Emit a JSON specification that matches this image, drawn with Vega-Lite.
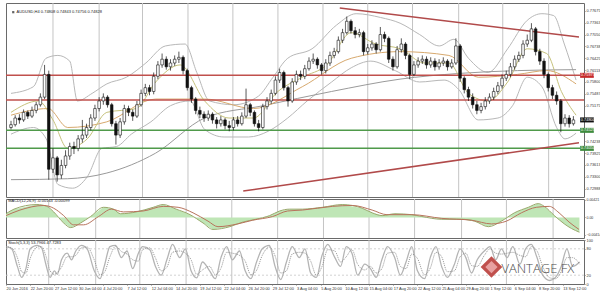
{
"$schema":"https://vega.github.io/schema/vega-lite/v6.json",
"background":"white",
"padding":{"left":2,"top":2,"right":0,"bottom":0},
"spacing":2,
"bounds":"flush",
"config":{"view":{"stroke":"#6a6a6a","strokeWidth":1},"axis":{"labelFont":"Liberation Sans","labelColor":"#333333","tickColor":"#777777","labelFontSize":3.9,"tickSize":1,"labelPadding":1,"domain":false,"grid":false,"title":null},"text":{"font":"Liberation Sans"}},
"datasets":{
"grid":[{"i":30},{"i":63},{"i":94},{"i":126.5},{"i":158.6},{"i":190.8},{"i":223},{"i":255},{"i":287},{"i":320},{"i":351.5},{"i":384.3}],
"levels":[{"p":0.75975,"col":"#c0504d"},{"p":0.75325,"col":"#c0504d"},{"p":0.74525,"col":"#4f9a4a"},{"p":0.7405,"col":"#4f9a4a"}],
"trend":[{"i":235,"p":0.7775,"i2":406,"p2":0.76985},{"i":166,"p":0.72925,"i2":406,"p2":0.742}],
"boxes":[{"p":0.75975,"col":"#c62828","t":"0.75975"},{"p":0.748,"col":"#111111","t":"0.74800"},{"p":0.74525,"col":"#3d8b3d","t":"0.74525"},{"p":0.7405,"col":"#3d8b3d","t":"0.74050"}],
"candles":[
{"i":0,"o":0.746,"h":0.74775,"l":0.7455,"c":0.74675},
{"i":3,"o":0.74675,"h":0.74925,"l":0.74625,"c":0.7485},
{"i":6,"o":0.7485,"h":0.7495,"l":0.747,"c":0.748},
{"i":9,"o":0.748,"h":0.75075,"l":0.7475,"c":0.75},
{"i":12,"o":0.75,"h":0.7505,"l":0.74825,"c":0.749},
{"i":15,"o":0.749,"h":0.7515,"l":0.7485,"c":0.7505},
{"i":18,"o":0.7505,"h":0.75275,"l":0.74975,"c":0.752},
{"i":21,"o":0.752,"h":0.755,"l":0.7515,"c":0.754},
{"i":24,"o":0.754,"h":0.7625,"l":0.7535,"c":0.76},
{"i":27,"o":0.76,"h":0.761,"l":0.73225,"c":0.735},
{"i":30,"o":0.735,"h":0.7405,"l":0.734,"c":0.738},
{"i":33,"o":0.738,"h":0.7385,"l":0.73175,"c":0.7335},
{"i":36,"o":0.7335,"h":0.7375,"l":0.7325,"c":0.736},
{"i":39,"o":0.736,"h":0.74,"l":0.73525,"c":0.7385},
{"i":42,"o":0.7385,"h":0.742,"l":0.7375,"c":0.741},
{"i":45,"o":0.741,"h":0.74225,"l":0.739,"c":0.7405},
{"i":48,"o":0.7405,"h":0.744,"l":0.73975,"c":0.743},
{"i":51,"o":0.743,"h":0.748,"l":0.742,"c":0.744},
{"i":54,"o":0.744,"h":0.747,"l":0.74325,"c":0.746},
{"i":57,"o":0.746,"h":0.7495,"l":0.74525,"c":0.7485},
{"i":60,"o":0.7485,"h":0.752,"l":0.74775,"c":0.751},
{"i":63,"o":0.751,"h":0.754,"l":0.75025,"c":0.753},
{"i":66,"o":0.753,"h":0.755,"l":0.752,"c":0.754},
{"i":69,"o":0.754,"h":0.7545,"l":0.75125,"c":0.752},
{"i":72,"o":0.752,"h":0.7525,"l":0.74625,"c":0.747},
{"i":75,"o":0.747,"h":0.74775,"l":0.7415,"c":0.744},
{"i":78,"o":0.744,"h":0.7485,"l":0.74325,"c":0.7475},
{"i":81,"o":0.7475,"h":0.752,"l":0.74675,"c":0.751},
{"i":84,"o":0.751,"h":0.75175,"l":0.749,"c":0.75},
{"i":87,"o":0.75,"h":0.75075,"l":0.74775,"c":0.749},
{"i":90,"o":0.749,"h":0.753,"l":0.7485,"c":0.752},
{"i":93,"o":0.752,"h":0.756,"l":0.7515,"c":0.755},
{"i":96,"o":0.755,"h":0.7575,"l":0.75425,"c":0.7565},
{"i":99,"o":0.7565,"h":0.75725,"l":0.7545,"c":0.7555},
{"i":102,"o":0.7555,"h":0.7605,"l":0.75475,"c":0.7595},
{"i":105,"o":0.7595,"h":0.7635,"l":0.75875,"c":0.7625},
{"i":108,"o":0.7625,"h":0.7655,"l":0.76175,"c":0.764},
{"i":111,"o":0.764,"h":0.76475,"l":0.76125,"c":0.762},
{"i":114,"o":0.762,"h":0.764,"l":0.761,"c":0.763},
{"i":117,"o":0.763,"h":0.765,"l":0.76225,"c":0.764},
{"i":120,"o":0.764,"h":0.766,"l":0.763,"c":0.7645},
{"i":123,"o":0.7645,"h":0.765,"l":0.76,"c":0.761},
{"i":126,"o":0.761,"h":0.7615,"l":0.75575,"c":0.7565},
{"i":129,"o":0.7565,"h":0.757,"l":0.7525,"c":0.7535},
{"i":132,"o":0.7535,"h":0.754,"l":0.7495,"c":0.7505},
{"i":135,"o":0.7505,"h":0.7515,"l":0.7485,"c":0.7495},
{"i":138,"o":0.7495,"h":0.75025,"l":0.7475,"c":0.7485},
{"i":141,"o":0.7485,"h":0.7505,"l":0.74775,"c":0.7495},
{"i":144,"o":0.7495,"h":0.75,"l":0.747,"c":0.748},
{"i":147,"o":0.748,"h":0.74875,"l":0.74575,"c":0.747},
{"i":150,"o":0.747,"h":0.749,"l":0.74625,"c":0.748},
{"i":153,"o":0.748,"h":0.7485,"l":0.7455,"c":0.7465},
{"i":156,"o":0.7465,"h":0.74775,"l":0.745,"c":0.746},
{"i":159,"o":0.746,"h":0.74875,"l":0.74525,"c":0.748},
{"i":162,"o":0.748,"h":0.749,"l":0.74625,"c":0.747},
{"i":165,"o":0.747,"h":0.75,"l":0.7465,"c":0.749},
{"i":168,"o":0.749,"h":0.75625,"l":0.7485,"c":0.752},
{"i":171,"o":0.752,"h":0.7525,"l":0.749,"c":0.75},
{"i":174,"o":0.75,"h":0.7505,"l":0.74625,"c":0.747},
{"i":177,"o":0.747,"h":0.748,"l":0.745,"c":0.746},
{"i":180,"o":0.746,"h":0.75225,"l":0.7455,"c":0.7515},
{"i":183,"o":0.7515,"h":0.754,"l":0.75075,"c":0.753},
{"i":186,"o":0.753,"h":0.756,"l":0.75225,"c":0.755},
{"i":189,"o":0.755,"h":0.7595,"l":0.7545,"c":0.7585},
{"i":192,"o":0.7585,"h":0.7615,"l":0.75775,"c":0.7605},
{"i":195,"o":0.7605,"h":0.761,"l":0.75575,"c":0.7565},
{"i":198,"o":0.7565,"h":0.757,"l":0.7515,"c":0.753},
{"i":201,"o":0.753,"h":0.759,"l":0.7525,"c":0.758},
{"i":204,"o":0.758,"h":0.761,"l":0.75725,"c":0.76},
{"i":207,"o":0.76,"h":0.761,"l":0.7585,"c":0.7595},
{"i":210,"o":0.7595,"h":0.7625,"l":0.75875,"c":0.7615},
{"i":213,"o":0.7615,"h":0.7645,"l":0.761,"c":0.7635},
{"i":216,"o":0.7635,"h":0.7655,"l":0.76275,"c":0.764},
{"i":219,"o":0.764,"h":0.7645,"l":0.7615,"c":0.7625},
{"i":222,"o":0.7625,"h":0.763,"l":0.76,"c":0.761},
{"i":225,"o":0.761,"h":0.764,"l":0.76025,"c":0.763},
{"i":228,"o":0.763,"h":0.766,"l":0.76225,"c":0.765},
{"i":231,"o":0.765,"h":0.767,"l":0.76425,"c":0.766},
{"i":234,"o":0.766,"h":0.77,"l":0.7655,"c":0.769},
{"i":237,"o":0.769,"h":0.772,"l":0.76825,"c":0.771},
{"i":240,"o":0.771,"h":0.77525,"l":0.7705,"c":0.774},
{"i":243,"o":0.774,"h":0.7745,"l":0.77075,"c":0.7715},
{"i":246,"o":0.7715,"h":0.7725,"l":0.7695,"c":0.7705},
{"i":249,"o":0.7705,"h":0.772,"l":0.76975,"c":0.771},
{"i":252,"o":0.771,"h":0.7715,"l":0.765,"c":0.766},
{"i":255,"o":0.766,"h":0.768,"l":0.76525,"c":0.767},
{"i":258,"o":0.767,"h":0.769,"l":0.76625,"c":0.768},
{"i":261,"o":0.768,"h":0.7685,"l":0.7655,"c":0.7665},
{"i":264,"o":0.7665,"h":0.7725,"l":0.766,"c":0.7705},
{"i":267,"o":0.7705,"h":0.77125,"l":0.7685,"c":0.7695},
{"i":270,"o":0.7695,"h":0.77,"l":0.763,"c":0.764},
{"i":273,"o":0.764,"h":0.76475,"l":0.761,"c":0.762},
{"i":276,"o":0.762,"h":0.7675,"l":0.7615,"c":0.7665},
{"i":279,"o":0.7665,"h":0.7695,"l":0.76575,"c":0.768},
{"i":282,"o":0.768,"h":0.7685,"l":0.764,"c":0.765},
{"i":285,"o":0.765,"h":0.7655,"l":0.75875,"c":0.76},
{"i":288,"o":0.76,"h":0.7635,"l":0.7595,"c":0.7625},
{"i":291,"o":0.7625,"h":0.7645,"l":0.76175,"c":0.7635},
{"i":294,"o":0.7635,"h":0.765,"l":0.76275,"c":0.764},
{"i":297,"o":0.764,"h":0.76475,"l":0.7615,"c":0.7625},
{"i":300,"o":0.7625,"h":0.7645,"l":0.76175,"c":0.7635},
{"i":303,"o":0.7635,"h":0.76425,"l":0.761,"c":0.762},
{"i":306,"o":0.762,"h":0.764,"l":0.76125,"c":0.763},
{"i":309,"o":0.763,"h":0.7645,"l":0.76225,"c":0.7635},
{"i":312,"o":0.7635,"h":0.764,"l":0.761,"c":0.762},
{"i":315,"o":0.762,"h":0.764,"l":0.7615,"c":0.763},
{"i":318,"o":0.763,"h":0.7695,"l":0.7625,"c":0.7675},
{"i":321,"o":0.7675,"h":0.768,"l":0.758,"c":0.759},
{"i":324,"o":0.759,"h":0.7595,"l":0.755,"c":0.756},
{"i":327,"o":0.756,"h":0.75675,"l":0.753,"c":0.754},
{"i":330,"o":0.754,"h":0.755,"l":0.751,"c":0.752},
{"i":333,"o":0.752,"h":0.753,"l":0.7495,"c":0.7505},
{"i":336,"o":0.7505,"h":0.7525,"l":0.74975,"c":0.7515},
{"i":339,"o":0.7515,"h":0.754,"l":0.75075,"c":0.753},
{"i":342,"o":0.753,"h":0.755,"l":0.75225,"c":0.754},
{"i":345,"o":0.754,"h":0.7565,"l":0.75325,"c":0.7555},
{"i":348,"o":0.7555,"h":0.758,"l":0.75475,"c":0.757},
{"i":351,"o":0.757,"h":0.76,"l":0.75625,"c":0.759},
{"i":354,"o":0.759,"h":0.761,"l":0.75825,"c":0.76},
{"i":357,"o":0.76,"h":0.763,"l":0.75925,"c":0.762},
{"i":360,"o":0.762,"h":0.765,"l":0.76125,"c":0.764},
{"i":363,"o":0.764,"h":0.766,"l":0.76325,"c":0.765},
{"i":366,"o":0.765,"h":0.769,"l":0.76425,"c":0.768},
{"i":369,"o":0.768,"h":0.7705,"l":0.76725,"c":0.769},
{"i":372,"o":0.769,"h":0.7735,"l":0.7685,"c":0.772},
{"i":375,"o":0.772,"h":0.7725,"l":0.765,"c":0.766},
{"i":378,"o":0.766,"h":0.76675,"l":0.7625,"c":0.7635},
{"i":381,"o":0.7635,"h":0.76425,"l":0.759,"c":0.76},
{"i":384,"o":0.76,"h":0.7605,"l":0.7555,"c":0.7565},
{"i":387,"o":0.7565,"h":0.75725,"l":0.7535,"c":0.7545},
{"i":390,"o":0.7545,"h":0.7555,"l":0.752,"c":0.753},
{"i":393,"o":0.753,"h":0.7535,"l":0.74475,"c":0.747},
{"i":396,"o":0.747,"h":0.7495,"l":0.74625,"c":0.7485},
{"i":399,"o":0.7485,"h":0.74925,"l":0.746,"c":0.747},
{"i":402,"o":0.747,"h":0.749,"l":0.7465,"c":0.748}
],
"ind":[
{"s":"bbu","i":0,"p":0.755},{"s":"bbu","i":16,"p":0.75675},{"s":"bbu","i":25,"p":0.76425},{"s":"bbu","i":33.5,"p":0.765},{"s":"bbu","i":42,"p":0.7635},{"s":"bbu","i":47.5,"p":0.753},{"s":"bbu","i":58,"p":0.755},{"s":"bbu","i":68.5,"p":0.7575},{"s":"bbu","i":82.5,"p":0.75925},{"s":"bbu","i":96.4,"p":0.763},{"s":"bbu","i":110.4,"p":0.7675},{"s":"bbu","i":124.4,"p":0.768},{"s":"bbu","i":132.8,"p":0.7605},{"s":"bbu","i":141.9,"p":0.753},{"s":"bbu","i":159.3,"p":0.752},{"s":"bbu","i":176.8,"p":0.75425},{"s":"bbu","i":187.3,"p":0.75925},{"s":"bbu","i":197.8,"p":0.76425},{"s":"bbu","i":215.2,"p":0.76675},{"s":"bbu","i":232.7,"p":0.773},{"s":"bbu","i":246.7,"p":0.776},{"s":"bbu","i":264.2,"p":0.775},{"s":"bbu","i":278.1,"p":0.7735},{"s":"bbu","i":292.1,"p":0.7705},{"s":"bbu","i":306.1,"p":0.7675},{"s":"bbu","i":316.6,"p":0.76925},{"s":"bbu","i":327,"p":0.76425},{"s":"bbu","i":341,"p":0.7605},{"s":"bbu","i":355,"p":0.76675},{"s":"bbu","i":369,"p":0.77425},{"s":"bbu","i":379.5,"p":0.776},{"s":"bbu","i":387.9,"p":0.7755},{"s":"bbu","i":395.5,"p":0.768},{"s":"bbu","i":403.9,"p":0.7585},
{"s":"bbl","i":0,"p":0.74425},{"s":"bbl","i":16,"p":0.746},{"s":"bbl","i":25.2,"p":0.743},{"s":"bbl","i":33.5,"p":0.731},{"s":"bbl","i":44,"p":0.73},{"s":"bbl","i":54.5,"p":0.733},{"s":"bbl","i":65,"p":0.7405},{"s":"bbl","i":75.5,"p":0.741},{"s":"bbl","i":86,"p":0.74425},{"s":"bbl","i":100,"p":0.7475},{"s":"bbl","i":114,"p":0.75175},{"s":"bbl","i":128,"p":0.753},{"s":"bbl","i":138.4,"p":0.7455},{"s":"bbl","i":152.3,"p":0.7435},{"s":"bbl","i":169.8,"p":0.7435},{"s":"bbl","i":183.8,"p":0.745},{"s":"bbl","i":197.8,"p":0.7485},{"s":"bbl","i":211.7,"p":0.753},{"s":"bbl","i":229.2,"p":0.758},{"s":"bbl","i":243.2,"p":0.76175},{"s":"bbl","i":257.2,"p":0.7635},{"s":"bbl","i":274.6,"p":0.761},{"s":"bbl","i":292.1,"p":0.758},{"s":"bbl","i":309.6,"p":0.7585},{"s":"bbl","i":320.1,"p":0.756},{"s":"bbl","i":334,"p":0.748},{"s":"bbl","i":348,"p":0.7485},{"s":"bbl","i":358.5,"p":0.75175},{"s":"bbl","i":369,"p":0.75925},{"s":"bbl","i":379.5,"p":0.75675},{"s":"bbl","i":390,"p":0.746},{"s":"bbl","i":396,"p":0.743},{"s":"bbl","i":403.9,"p":0.7445},
{"s":"ma200","i":0,"p":0.73225},{"s":"ma200","i":40.5,"p":0.7325},{"s":"ma200","i":68.5,"p":0.734},{"s":"ma200","i":103.4,"p":0.73925},{"s":"ma200","i":138.4,"p":0.7485},{"s":"ma200","i":180.3,"p":0.75175},{"s":"ma200","i":229.2,"p":0.7555},{"s":"ma200","i":278.1,"p":0.75875},{"s":"ma200","i":320.1,"p":0.76025},{"s":"ma200","i":362,"p":0.761},{"s":"ma200","i":403.9,"p":0.76125},
{"s":"ma50","i":0,"p":0.74925},{"s":"ma50","i":26.6,"p":0.751},{"s":"ma50","i":40.5,"p":0.746},{"s":"ma50","i":68.5,"p":0.7475},{"s":"ma50","i":103.4,"p":0.7535},{"s":"ma50","i":138.4,"p":0.7535},{"s":"ma50","i":173.3,"p":0.751},{"s":"ma50","i":208.2,"p":0.75675},{"s":"ma50","i":243.2,"p":0.76425},{"s":"ma50","i":278.1,"p":0.766},{"s":"ma50","i":313,"p":0.765},{"s":"ma50","i":334,"p":0.75925},{"s":"ma50","i":362,"p":0.76},{"s":"ma50","i":382.9,"p":0.761},{"s":"ma50","i":403.9,"p":0.7575},
{"s":"ma20","i":0,"p":0.75},{"s":"ma20","i":19.6,"p":0.753},{"s":"ma20","i":30,"p":0.748},{"s":"ma20","i":40.5,"p":0.7405},{"s":"ma20","i":54.5,"p":0.743},{"s":"ma20","i":68.5,"p":0.75},{"s":"ma20","i":89.5,"p":0.751},{"s":"ma20","i":103.4,"p":0.758},{"s":"ma20","i":120.9,"p":0.7625},{"s":"ma20","i":138.4,"p":0.753},{"s":"ma20","i":155.8,"p":0.7485},{"s":"ma20","i":173.3,"p":0.7485},{"s":"ma20","i":190.8,"p":0.7555},{"s":"ma20","i":208.2,"p":0.75925},{"s":"ma20","i":225.7,"p":0.7625},{"s":"ma20","i":243.2,"p":0.771},{"s":"ma20","i":260.7,"p":0.768},{"s":"ma20","i":278.1,"p":0.76675},{"s":"ma20","i":295.6,"p":0.763},{"s":"ma20","i":313,"p":0.763},{"s":"ma20","i":327,"p":0.755},{"s":"ma20","i":341,"p":0.753},{"s":"ma20","i":355,"p":0.758},{"s":"ma20","i":369,"p":0.76675},{"s":"ma20","i":382.9,"p":0.7655},{"s":"ma20","i":393.4,"p":0.7555},{"s":"ma20","i":403.9,"p":0.74925}
],
"macd":[{"i":0,"v":0.00088},{"i":5.6,"v":0.00198},{"i":21.7,"v":0.00308},{"i":28.7,"v":0.00264},{"i":33.5,"v":0.00132},{"i":40.5,"v":-0.00132},{"i":45.4,"v":-0.00242},{"i":52.4,"v":-0.00132},{"i":59.4,"v":0.00022},{"i":68.5,"v":0.00242},{"i":75.5,"v":0.00198},{"i":80.4,"v":0.00088},{"i":91.5,"v":0.00132},{"i":103.4,"v":0.00242},{"i":110.4,"v":0.00308},{"i":119.5,"v":0.00198},{"i":129.3,"v":0.00066},{"i":138.4,"v":-0.00132},{"i":145.4,"v":-0.00286},{"i":157.2,"v":-0.0022},{"i":166.3,"v":-0.0011},{"i":175.4,"v":-0.00044},{"i":185.2,"v":0.00044},{"i":192.2,"v":0.00154},{"i":199.2,"v":0.00198},{"i":208.2,"v":0.00198},{"i":222.2,"v":0.00242},{"i":236.2,"v":0.00308},{"i":250.2,"v":0.0022},{"i":257.2,"v":0.0011},{"i":264.2,"v":0.00044},{"i":273.2,"v":0.00088},{"i":285.1,"v":0.00066},{"i":292.1,"v":0.00022},{"i":306.1,"v":-0.00044},{"i":320.1,"v":-0.00044},{"i":329.1,"v":-0.00088},{"i":338.9,"v":-0.0022},{"i":348,"v":-0.00088},{"i":357.1,"v":0.0011},{"i":366.9,"v":0.00242},{"i":373.9,"v":0.0033},{"i":378.1,"v":0.00264},{"i":385.2,"v":0.00044},{"i":392.2,"v":-0.00154},{"i":397.2,"v":-0.00264},{"i":402.8,"v":-0.00352}],
"sig":[{"i":0,"v":0.00044},{"i":9.8,"v":0.00176},{"i":26.6,"v":0.00286},{"i":33.5,"v":0.0022},{"i":40.5,"v":0.00044},{"i":47.5,"v":-0.00176},{"i":54.5,"v":-0.00176},{"i":65,"v":0.00022},{"i":74.1,"v":0.00198},{"i":82.5,"v":0.00132},{"i":96.4,"v":0.00154},{"i":110.4,"v":0.00264},{"i":120.9,"v":0.00242},{"i":131.4,"v":0.0011},{"i":141.9,"v":-0.00088},{"i":148.9,"v":-0.0022},{"i":162.8,"v":-0.00154},{"i":173.3,"v":-0.00066},{"i":187.3,"v":0.00022},{"i":197.8,"v":0.00154},{"i":208.2,"v":0.00176},{"i":229.2,"v":0.00264},{"i":243.2,"v":0.00286},{"i":257.2,"v":0.00176},{"i":267.6,"v":0.00066},{"i":285.1,"v":0.00066},{"i":306.1,"v":-0.00022},{"i":327,"v":-0.00066},{"i":341,"v":-0.00154},{"i":351.5,"v":-0.00088},{"i":362,"v":0.0011},{"i":372.5,"v":0.00242},{"i":381.6,"v":0.00264},{"i":388.5,"v":0.0011},{"i":395.5,"v":-0.0011},{"i":402.5,"v":-0.00286}],
"stoch":[{"i":0,"m":85,"s":85},{"i":4,"m":80,"s":82},{"i":8,"m":40,"s":60},{"i":11,"m":15,"s":28},{"i":14,"m":35,"s":25},{"i":17,"m":80,"s":58},{"i":22,"m":88,"s":84},{"i":25,"m":82,"s":85},{"i":28,"m":45,"s":64},{"i":31,"m":15,"s":30},
{"i":34,"m":30,"s":22},{"i":36,"m":22,"s":26},{"i":39,"m":55,"s":38},{"i":43,"m":70,"s":62},{"i":46,"m":55,"s":62},{"i":49,"m":75,"s":65},{"i":53,"m":88,"s":82},{"i":57,"m":80,"s":84},{"i":62,"m":30,"s":55},{"i":66,"m":12,"s":21},
{"i":69,"m":40,"s":26},{"i":73,"m":85,"s":62},{"i":77,"m":88,"s":86},{"i":81,"m":60,"s":74},{"i":85,"m":75,"s":68},{"i":89,"m":35,"s":55},{"i":93,"m":70,"s":52},{"i":96,"m":85,"s":78},{"i":101,"m":78,"s":82},{"i":105,"m":40,"s":59},
{"i":109,"m":20,"s":30},{"i":113,"m":55,"s":38},{"i":117,"m":90,"s":72},{"i":122,"m":60,"s":75},{"i":126,"m":80,"s":70},{"i":130,"m":30,"s":55},{"i":134,"m":14,"s":22},{"i":138,"m":50,"s":32},{"i":143,"m":30,"s":40},{"i":147,"m":12,"s":21},
{"i":151,"m":60,"s":36},{"i":155,"m":85,"s":72},{"i":159,"m":55,"s":70},{"i":164,"m":75,"s":65},{"i":168,"m":30,"s":52},{"i":172,"m":12,"s":21},{"i":176,"m":50,"s":31},{"i":180,"m":80,"s":65},{"i":185,"m":88,"s":84},{"i":189,"m":40,"s":64},
{"i":193,"m":10,"s":25},{"i":197,"m":50,"s":30},{"i":201,"m":85,"s":68},{"i":206,"m":60,"s":72},{"i":210,"m":80,"s":70},{"i":214,"m":25,"s":52},{"i":218,"m":15,"s":20},{"i":222,"m":65,"s":40},{"i":226,"m":90,"s":78},{"i":231,"m":60,"s":75},
{"i":235,"m":40,"s":50},{"i":239,"m":85,"s":62},{"i":243,"m":70,"s":78},{"i":247,"m":20,"s":45},{"i":252,"m":45,"s":32},{"i":256,"m":35,"s":40},{"i":260,"m":15,"s":25},{"i":264,"m":55,"s":35},{"i":268,"m":85,"s":70},{"i":273,"m":60,"s":72},
{"i":277,"m":20,"s":40},{"i":281,"m":50,"s":35},{"i":285,"m":85,"s":68},{"i":289,"m":30,"s":58},{"i":294,"m":12,"s":21},{"i":298,"m":60,"s":36},{"i":302,"m":85,"s":72},{"i":306,"m":40,"s":62},{"i":310,"m":15,"s":28},{"i":315,"m":45,"s":30},
{"i":319,"m":80,"s":62},{"i":323,"m":60,"s":70},{"i":327,"m":25,"s":42},{"i":331,"m":55,"s":40},{"i":336,"m":75,"s":65},{"i":340,"m":85,"s":80},{"i":344,"m":55,"s":70},{"i":348,"m":80,"s":68},{"i":352,"m":60,"s":70},{"i":356,"m":85,"s":72},
{"i":361,"m":45,"s":65},{"i":365,"m":80,"s":62},{"i":369,"m":90,"s":85},{"i":373,"m":60,"s":75},{"i":377,"m":20,"s":40},{"i":382,"m":8,"s":14},{"i":386,"m":15,"s":12},{"i":390,"m":40,"s":28},{"i":394,"m":80,"s":60},{"i":398,"m":40,"s":60},
{"i":403,"m":50,"s":45}],
"slev":[{"v":80},{"v":20}]
},
"vconcat":[
{"width":578,"height":194,
"layer":[
{"data":{"name":"grid"},"mark":{"type":"rule","color":"#c4c4c4","strokeWidth":1},"encoding":{"x":{"field":"i","type":"quantitative","scale":{"domain":[0,406],"nice":false,"zero":false},"axis":null}}},
{"data":{"name":"ind"},"mark":{"type":"line","strokeWidth":1,"clip":true,"interpolate":"monotone"},"encoding":{"x":{"field":"i","type":"quantitative","scale":{"domain":[0,406],"nice":false,"zero":false},"axis":null},"y":{"field":"p","type":"quantitative","scale":{"domain":[0.729,0.7775],"nice":false,"zero":false},"axis":{"orient":"right","values":[0.77675,0.773625,0.7705,0.767375,0.76425,0.761125,0.758,0.754875,0.75175,0.742375,0.73925,0.736125,0.733,0.729875],"format":".5f","title":null}},"detail":{"field":"s"},"color":{"field":"s","type":"nominal","scale":{"domain":["bbu","bbl","ma200","ma50","ma20"],"range":["#b8b8b8","#b8b8b8","#9a9a9a","#d7a96e","#c6c27c"]},"legend":null}}},
{"data":{"name":"levels"},"mark":{"type":"rule","strokeWidth":1.5},"encoding":{"y":{"field":"p","type":"quantitative","scale":{"domain":[0.729,0.7775],"nice":false,"zero":false},"axis":{"orient":"right","values":[0.77675,0.773625,0.7705,0.767375,0.76425,0.761125,0.758,0.754875,0.75175,0.742375,0.73925,0.736125,0.733,0.729875],"format":".5f","title":null}},"color":{"field":"col","type":"nominal","scale":null}}},
{"data":{"name":"trend"},"mark":{"type":"rule","strokeWidth":1.5,"color":"#b14a4a"},"encoding":{"x":{"field":"i","type":"quantitative","scale":{"domain":[0,406],"nice":false,"zero":false},"axis":null},"x2":{"field":"i2"},"y":{"field":"p","type":"quantitative","scale":{"domain":[0.729,0.7775],"nice":false,"zero":false},"axis":{"orient":"right","values":[0.77675,0.773625,0.7705,0.767375,0.76425,0.761125,0.758,0.754875,0.75175,0.742375,0.73925,0.736125,0.733,0.729875],"format":".5f","title":null}},"y2":{"field":"p2"}}},
{"data":{"name":"candles"},"mark":{"type":"rule","color":"#111111","strokeWidth":0.7},"encoding":{"x":{"field":"i","type":"quantitative","scale":{"domain":[0,406],"nice":false,"zero":false},"axis":null},"y":{"field":"l","type":"quantitative","scale":{"domain":[0.729,0.7775],"nice":false,"zero":false},"axis":{"orient":"right","values":[0.77675,0.773625,0.7705,0.767375,0.76425,0.761125,0.758,0.754875,0.75175,0.742375,0.73925,0.736125,0.733,0.729875],"format":".5f","title":null}},"y2":{"field":"h"}}},
{"data":{"name":"candles"},"mark":{"type":"bar","size":2.6,"stroke":"#111111","strokeWidth":0.6},"encoding":{"x":{"field":"i","type":"quantitative","scale":{"domain":[0,406],"nice":false,"zero":false},"axis":null},"y":{"field":"o","type":"quantitative","scale":{"domain":[0.729,0.7775],"nice":false,"zero":false},"axis":{"orient":"right","values":[0.77675,0.773625,0.7705,0.767375,0.76425,0.761125,0.758,0.754875,0.75175,0.742375,0.73925,0.736125,0.733,0.729875],"format":".5f","title":null}},"y2":{"field":"c"},"fill":{"condition":{"test":"datum.c > datum.o","value":"#ffffff"},"value":"#111111"}}},
{"data":{"values":[{"t":"AUDUSD,H4  0.74808 0.74843 0.74756 0.74828"}]},"mark":{"type":"text","align":"left","baseline":"middle","fontSize":4,"color":"#222222"},"encoding":{"x":{"datum":4,"type":"quantitative","scale":{"domain":[0,406],"nice":false,"zero":false},"axis":null},"y":{"datum":0.7764,"type":"quantitative","scale":{"domain":[0.729,0.7775],"nice":false,"zero":false},"axis":{"orient":"right","values":[0.77675,0.773625,0.7705,0.767375,0.76425,0.761125,0.758,0.754875,0.75175,0.742375,0.73925,0.736125,0.733,0.729875],"format":".5f","title":null}},"text":{"field":"t"}}},
{"data":{"values":[{"t":"x"}]},"mark":{"type":"square","filled":true,"color":"#222222","size":5},"encoding":{"x":{"datum":1.6,"type":"quantitative","scale":{"domain":[0,406],"nice":false,"zero":false},"axis":null},"y":{"datum":0.7764,"type":"quantitative","scale":{"domain":[0.729,0.7775],"nice":false,"zero":false},"axis":{"orient":"right","values":[0.77675,0.773625,0.7705,0.767375,0.76425,0.761125,0.758,0.754875,0.75175,0.742375,0.73925,0.736125,0.733,0.729875],"format":".5f","title":null}}}},
{"data":{"name":"boxes"},"mark":{"type":"bar","size":5,"orient":"horizontal","clip":false},"encoding":{"x":{"datum":406.8,"type":"quantitative","scale":{"domain":[0,406],"nice":false,"zero":false},"axis":null},"x2":{"datum":416.6},"y":{"field":"p","type":"quantitative","scale":{"domain":[0.729,0.7775],"nice":false,"zero":false},"axis":{"orient":"right","values":[0.77675,0.773625,0.7705,0.767375,0.76425,0.761125,0.758,0.754875,0.75175,0.742375,0.73925,0.736125,0.733,0.729875],"format":".5f","title":null}},"color":{"field":"col","type":"nominal","scale":null}}},
{"data":{"name":"boxes"},"mark":{"type":"text","align":"left","baseline":"middle","fontSize":3.9,"color":"#ffffff","clip":false},"encoding":{"x":{"datum":407.3,"type":"quantitative","scale":{"domain":[0,406],"nice":false,"zero":false},"axis":null},"y":{"field":"p","type":"quantitative","scale":{"domain":[0.729,0.7775],"nice":false,"zero":false},"axis":{"orient":"right","values":[0.77675,0.773625,0.7705,0.767375,0.76425,0.761125,0.758,0.754875,0.75175,0.742375,0.73925,0.736125,0.733,0.729875],"format":".5f","title":null}},"text":{"field":"t"}}}
]},
{"width":578,"height":39,
"layer":[
{"data":{"name":"grid"},"mark":{"type":"rule","color":"#c4c4c4","strokeWidth":1},"encoding":{"x":{"field":"i","type":"quantitative","scale":{"domain":[0,406],"nice":false,"zero":false},"axis":null}}},
{"data":{"name":"macd"},"mark":{"type":"area","color":"#bfe6b6","opacity":1},"encoding":{"x":{"field":"i","type":"quantitative","scale":{"domain":[0,406],"nice":false,"zero":false},"axis":null},"y":{"field":"v","type":"quantitative","scale":{"domain":[-0.0049,0.0044],"nice":false,"zero":false},"axis":{"orient":"right","values":[0.00421,0,-0.00414],"labelFontSize":3.5,"labelExpr":"datum.value == 0 ? '0.00' : format(datum.value, '.5f')","title":null}},"y2":{"datum":0}}},
{"data":{"name":"macd"},"mark":{"type":"line","color":"#9aa86c","strokeWidth":1,"interpolate":"monotone"},"encoding":{"x":{"field":"i","type":"quantitative","scale":{"domain":[0,406],"nice":false,"zero":false},"axis":null},"y":{"field":"v","type":"quantitative","scale":{"domain":[-0.0049,0.0044],"nice":false,"zero":false},"axis":{"orient":"right","values":[0.00421,0,-0.00414],"labelFontSize":3.5,"labelExpr":"datum.value == 0 ? '0.00' : format(datum.value, '.5f')","title":null}}}},
{"data":{"name":"sig"},"mark":{"type":"line","color":"#b8735c","strokeWidth":1,"interpolate":"monotone"},"encoding":{"x":{"field":"i","type":"quantitative","scale":{"domain":[0,406],"nice":false,"zero":false},"axis":null},"y":{"field":"v","type":"quantitative","scale":{"domain":[-0.0049,0.0044],"nice":false,"zero":false},"axis":{"orient":"right","values":[0.00421,0,-0.00414],"labelFontSize":3.5,"labelExpr":"datum.value == 0 ? '0.00' : format(datum.value, '.5f')","title":null}}}},
{"data":{"values":[{"t":"MACD(12,26,9) -0.00163 -0.00099"}]},"mark":{"type":"text","align":"left","baseline":"middle","fontSize":4,"color":"#222222"},"encoding":{"x":{"datum":1.5,"type":"quantitative","scale":{"domain":[0,406],"nice":false,"zero":false},"axis":null},"y":{"datum":0.0039,"type":"quantitative","scale":{"domain":[-0.0049,0.0044],"nice":false,"zero":false},"axis":{"orient":"right","values":[0.00421,0,-0.00414],"labelFontSize":3.5,"labelExpr":"datum.value == 0 ? '0.00' : format(datum.value, '.5f')","title":null}},"text":{"field":"t"}}}
]},
{"width":578,"height":44,
"layer":[
{"data":{"name":"grid"},"mark":{"type":"rule","color":"#c4c4c4","strokeWidth":1},"encoding":{"x":{"field":"i","type":"quantitative","scale":{"domain":[0,406],"nice":false,"zero":false},"axis":{"values":[0,17,34,51,68,85,102,119,136,153,170,187,204,221,238,255,272,289,306,323,340,357,374,391],"labelExpr":"['20 Jun 2016','22 Jun 20:00','27 Jun 12:00','30 Jun 04:00','4 Jul 20:00','7 Jul 12:00','12 Jul 04:00','14 Jul 20:00','19 Jul 12:00','22 Jul 04:00','26 Jul 20:00','29 Jul 12:00','3 Aug 04:00','5 Aug 20:00','10 Aug 12:00','15 Aug 04:00','17 Aug 20:00','22 Aug 12:00','25 Aug 04:00','29 Aug 20:00','1 Sep 12:00','6 Sep 04:00','8 Sep 20:00','13 Sep 12:00'][round(datum.value/17)]","labelAlign":"left","labelOverlap":false,"labelFlush":false,"title":null}}}},
{"data":{"name":"slev"},"mark":{"type":"rule","color":"#c8c8c8","strokeWidth":0.8,"strokeDash":[2,2]},"encoding":{"y":{"field":"v","type":"quantitative","scale":{"domain":[0,100],"nice":false,"zero":false},"axis":{"orient":"right","values":[100,80,20,0],"title":null}}}},
{"data":{"name":"stoch"},"mark":{"type":"line","color":"#b4b4b4","strokeWidth":1.3,"interpolate":"monotone"},"encoding":{"x":{"field":"i","type":"quantitative","scale":{"domain":[0,406],"nice":false,"zero":false},"axis":{"values":[0,17,34,51,68,85,102,119,136,153,170,187,204,221,238,255,272,289,306,323,340,357,374,391],"labelExpr":"['20 Jun 2016','22 Jun 20:00','27 Jun 12:00','30 Jun 04:00','4 Jul 20:00','7 Jul 12:00','12 Jul 04:00','14 Jul 20:00','19 Jul 12:00','22 Jul 04:00','26 Jul 20:00','29 Jul 12:00','3 Aug 04:00','5 Aug 20:00','10 Aug 12:00','15 Aug 04:00','17 Aug 20:00','22 Aug 12:00','25 Aug 04:00','29 Aug 20:00','1 Sep 12:00','6 Sep 04:00','8 Sep 20:00','13 Sep 12:00'][round(datum.value/17)]","labelAlign":"left","labelOverlap":false,"labelFlush":false,"title":null}},"y":{"field":"m","type":"quantitative","scale":{"domain":[0,100],"nice":false,"zero":false},"axis":{"orient":"right","values":[100,80,20,0],"title":null}}}},
{"data":{"name":"stoch"},"mark":{"type":"line","color":"#8a8a8a","strokeWidth":0.9,"strokeDash":[1,1],"interpolate":"monotone"},"encoding":{"x":{"field":"i","type":"quantitative","scale":{"domain":[0,406],"nice":false,"zero":false},"axis":{"values":[0,17,34,51,68,85,102,119,136,153,170,187,204,221,238,255,272,289,306,323,340,357,374,391],"labelExpr":"['20 Jun 2016','22 Jun 20:00','27 Jun 12:00','30 Jun 04:00','4 Jul 20:00','7 Jul 12:00','12 Jul 04:00','14 Jul 20:00','19 Jul 12:00','22 Jul 04:00','26 Jul 20:00','29 Jul 12:00','3 Aug 04:00','5 Aug 20:00','10 Aug 12:00','15 Aug 04:00','17 Aug 20:00','22 Aug 12:00','25 Aug 04:00','29 Aug 20:00','1 Sep 12:00','6 Sep 04:00','8 Sep 20:00','13 Sep 12:00'][round(datum.value/17)]","labelAlign":"left","labelOverlap":false,"labelFlush":false,"title":null}},"y":{"field":"s","type":"quantitative","scale":{"domain":[0,100],"nice":false,"zero":false},"axis":{"orient":"right","values":[100,80,20,0],"title":null}}}},
{"data":{"values":[{"t":"Stoch(5,3,3) 53.7966 47.7283","lx":1.5,"ly":93}]},"mark":{"type":"text","align":"left","baseline":"middle","fontSize":4,"color":"#222222"},"encoding":{"x":{"field":"lx","type":"quantitative","scale":{"domain":[0,406],"nice":false,"zero":false},"axis":{"values":[0,17,34,51,68,85,102,119,136,153,170,187,204,221,238,255,272,289,306,323,340,357,374,391],"labelExpr":"['20 Jun 2016','22 Jun 20:00','27 Jun 12:00','30 Jun 04:00','4 Jul 20:00','7 Jul 12:00','12 Jul 04:00','14 Jul 20:00','19 Jul 12:00','22 Jul 04:00','26 Jul 20:00','29 Jul 12:00','3 Aug 04:00','5 Aug 20:00','10 Aug 12:00','15 Aug 04:00','17 Aug 20:00','22 Aug 12:00','25 Aug 04:00','29 Aug 20:00','1 Sep 12:00','6 Sep 04:00','8 Sep 20:00','13 Sep 12:00'][round(datum.value/17)]","labelAlign":"left","labelOverlap":false,"labelFlush":false,"title":null}},"y":{"field":"ly","type":"quantitative","scale":{"domain":[0,100],"nice":false,"zero":false},"axis":{"orient":"right","values":[100,80,20,0],"title":null}},"text":{"field":"t"}}},
{"data":{"values":[{"lx":341,"ly":38.6,"sz":470,"f":"#c0504d"},{"lx":341,"ly":38.6,"sz":150,"f":"#e8a0a0"}]},"mark":{"type":"point","shape":"diamond","filled":true,"opacity":1},"encoding":{"x":{"field":"lx","type":"quantitative","scale":{"domain":[0,406],"nice":false,"zero":false},"axis":{"values":[0,17,34,51,68,85,102,119,136,153,170,187,204,221,238,255,272,289,306,323,340,357,374,391],"labelExpr":"['20 Jun 2016','22 Jun 20:00','27 Jun 12:00','30 Jun 04:00','4 Jul 20:00','7 Jul 12:00','12 Jul 04:00','14 Jul 20:00','19 Jul 12:00','22 Jul 04:00','26 Jul 20:00','29 Jul 12:00','3 Aug 04:00','5 Aug 20:00','10 Aug 12:00','15 Aug 04:00','17 Aug 20:00','22 Aug 12:00','25 Aug 04:00','29 Aug 20:00','1 Sep 12:00','6 Sep 04:00','8 Sep 20:00','13 Sep 12:00'][round(datum.value/17)]","labelAlign":"left","labelOverlap":false,"labelFlush":false,"title":null}},"y":{"field":"ly","type":"quantitative","scale":{"domain":[0,100],"nice":false,"zero":false},"axis":{"orient":"right","values":[100,80,20,0],"title":null}},"size":{"field":"sz","type":"quantitative","scale":null},"color":{"field":"f","type":"nominal","scale":null}}},
{"data":{"values":[{"t":"VANTAGE FX","lx":348,"ly":35}]},"mark":{"type":"text","align":"left","baseline":"middle","fontSize":13,"font":"Open Sans","fontWeight":300,"color":"#4a4a4a"},"encoding":{"x":{"field":"lx","type":"quantitative","scale":{"domain":[0,406],"nice":false,"zero":false},"axis":{"values":[0,17,34,51,68,85,102,119,136,153,170,187,204,221,238,255,272,289,306,323,340,357,374,391],"labelExpr":"['20 Jun 2016','22 Jun 20:00','27 Jun 12:00','30 Jun 04:00','4 Jul 20:00','7 Jul 12:00','12 Jul 04:00','14 Jul 20:00','19 Jul 12:00','22 Jul 04:00','26 Jul 20:00','29 Jul 12:00','3 Aug 04:00','5 Aug 20:00','10 Aug 12:00','15 Aug 04:00','17 Aug 20:00','22 Aug 12:00','25 Aug 04:00','29 Aug 20:00','1 Sep 12:00','6 Sep 04:00','8 Sep 20:00','13 Sep 12:00'][round(datum.value/17)]","labelAlign":"left","labelOverlap":false,"labelFlush":false,"title":null}},"y":{"field":"ly","type":"quantitative","scale":{"domain":[0,100],"nice":false,"zero":false},"axis":{"orient":"right","values":[100,80,20,0],"title":null}},"text":{"field":"t"}}}
]}
]
}
